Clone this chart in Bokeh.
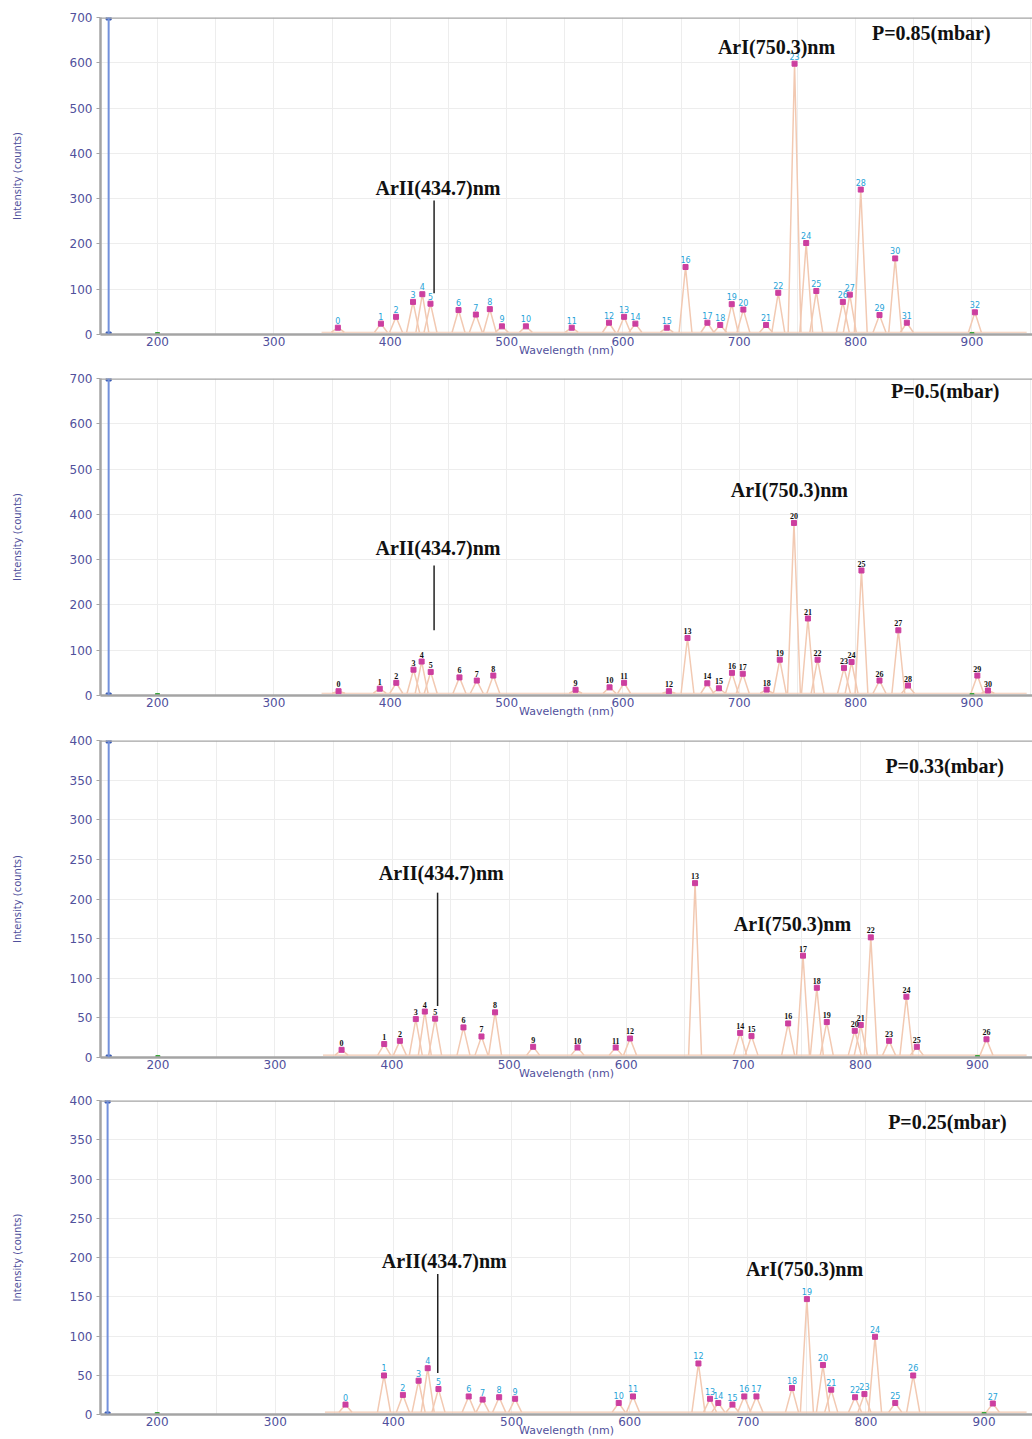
from bokeh.plotting import figure
from bokeh.layouts import column
from bokeh.models import FixedTicker, Span, Label
from bokeh.embed import file_html
from bokeh.resources import INLINE
from bokeh.core.properties import value

# ---------------- data ----------------
x_ticks = [200, 300, 400, 500, 600, 700, 800, 900]
x_grid_ticks = [150, 200, 250, 300, 350, 400, 450, 500, 550, 600, 650, 700, 750, 800, 850, 900, 950]
y_ticks_high = [0, 100, 200, 300, 400, 500, 600, 700]
y_ticks_low = [0, 50, 100, 150, 200, 250, 300, 350, 400]

pressures = ["P=0.85(mbar)", "P=0.5(mbar)", "P=0.33(mbar)", "P=0.25(mbar)"]
line_ArII = "ArII(434.7)nm"
line_ArI = "ArI(750.3)nm"
marker_line_nm = 158
green_marks_nm = [200, 900]
baseline_counts = [5, 5, 3, 3]

p1_nm = [355, 392, 405, 419.6, 427.6, 434.6, 458.7, 473.6, 485.6, 496, 516.6, 556, 588, 601,
         610.7, 637.7, 653.8, 672.6, 683.6, 693.5, 703.5, 723, 733.5, 747.5, 757.5, 766.2,
         789, 795, 804.4, 820.5, 834, 844, 902.5]
p1_int = [15, 24, 39, 72, 89, 68, 54, 44, 56, 18, 18, 15, 26, 39, 24, 15, 149, 26, 21, 67,
          55, 21, 92, 598, 202, 96, 72, 88, 320, 43, 168, 26, 49]

p2_nm = [355.6, 391, 405.2, 420, 427, 434.8, 459.5, 474.4, 488.6, 559.3, 588.5, 601, 639.5,
         655.5, 672.5, 682.5, 693.7, 703, 723.5, 734.8, 747, 759, 767.3, 790, 796.5, 805,
         820.5, 836.7, 845, 904.6, 913.7]
p2_int = [9.5, 15, 28, 57, 75, 52, 40, 33, 44, 12.6, 18, 28, 9.5, 127, 27, 16, 50, 48, 13,
          79, 381, 170, 79, 61, 74, 276, 33, 144, 22, 44, 11]

p3_nm = [356.9, 393.3, 406.7, 420.3, 428, 436.8, 461, 476.4, 488, 520.5, 558.4, 591, 603.3,
         658.8, 697.3, 707, 738.3, 751, 762.8, 771.3, 795.2, 800.3, 808.9, 824.5, 839.3,
         848.2, 907.7]
p3_int = [9.7, 17, 21, 48.5, 58, 49, 38, 26.5, 57, 13.5, 12.6, 12.6, 24, 220, 31, 27, 43,
          128.5, 88, 44.7, 33.7, 41, 151.6, 21, 76.7, 13.5, 23]

p4_nm = [359.4, 392, 408, 421.3, 429, 438.1, 463.7, 475.5, 489.5, 503, 590.7, 602.8, 658.2,
         668, 675, 687, 697, 707.3, 737.4, 750, 763.6, 770.6, 790.8, 798.7, 807.7, 824.8,
         840, 907.4]
p4_int = [12.6, 49.7, 25, 43, 59, 32.5, 23, 19, 22, 20, 14.7, 23, 65, 20, 14.7, 12.6, 23, 23,
          33.7, 147, 63, 31.6, 22, 26, 99, 14.7, 49.7, 14]

# ---------------- styling / layout per panel ----------------
AXIS_GRAY = "#a4a4a4"
TICK_COLOR = "#50509c"
SPEC_COLOR = "#f2c9b2"
PEAK_COLOR = "#cc3f9f"
CYAN = "#27a3d8"

panels = [
    dict(nm=p1_nm, inten=p1_int, yticks=y_ticks_high, x0=151, x1=952, height=362, top=17,
         bottom=28, left=87, lab_color=CYAN, lab_font="DejaVu Sans", lab_style="normal",
         P=(865, 665), ArI=(732, 634), ArII=(441, 323), ptr=(437.7, 296, 91)),
    dict(nm=p2_nm, inten=p2_int, yticks=y_ticks_high, x0=151, x1=952, height=363, top=16,
         bottom=30, left=87, lab_color="#111111", lab_font="Liberation Serif", lab_style="bold",
         P=(877, 673), ArI=(743, 453), ArII=(441, 325), ptr=(437.7, 287, 144)),
    dict(nm=p3_nm, inten=p3_int, yticks=y_ticks_low, x0=151, x1=947, height=360, top=15,
         bottom=28, left=100, lab_color="#111111", lab_font="Liberation Serif", lab_style="bold",
         P=(872, 368), ArI=(742, 168), ArII=(442, 233), ptr=(438.9, 208, 65)),
    dict(nm=p4_nm, inten=p4_int, yticks=y_ticks_low, x0=152, x1=941, height=354, top=15,
         bottom=22, left=97, lab_color=CYAN, lab_font="DejaVu Sans", lab_style="normal",
         P=(869, 372), ArI=(748, 185), ArII=(443, 195), ptr=(437.5, 179, 53)),
]

HALF_W = 5.5


def make_panel(i, c):
    ymax = c["yticks"][-1]
    p = figure(width=1032, height=c["height"], x_range=(c["x0"], c["x1"]),
               y_range=(0, ymax), output_backend="svg", toolbar_location=None,
               min_border_left=c["left"], min_border_right=0, min_border_top=c["top"],
               min_border_bottom=c["bottom"])
    p.outline_line_color = None
    p.background_fill_color = "white"
    p.border_fill_color = "white"

    # grids
    p.xgrid.ticker = FixedTicker(ticks=x_grid_ticks)
    p.ygrid.ticker = FixedTicker(ticks=c["yticks"])
    p.xgrid.grid_line_color = "#ededed"
    p.ygrid.grid_line_color = "#ededed"

    # x axis
    xa = p.xaxis[0]
    xa.ticker = FixedTicker(ticks=x_ticks)
    xa.axis_line_color = AXIS_GRAY
    xa.axis_line_width = 2.5
    xa.major_tick_out = 0
    xa.major_tick_in = 0
    xa.minor_tick_out = 0
    xa.minor_tick_in = 0
    xa.major_label_standoff = 2
    xa.major_label_text_font = "DejaVu Sans"
    xa.major_label_text_font_size = "12px"
    xa.major_label_text_color = TICK_COLOR
    xa.axis_label = "Wavelength (nm)"
    xa.axis_label_standoff = -5
    xa.axis_label_text_font = "DejaVu Sans"
    xa.axis_label_text_font_style = "normal"
    xa.axis_label_text_font_size = "11px"
    xa.axis_label_text_color = TICK_COLOR

    # y axis
    ya = p.yaxis[0]
    ya.ticker = FixedTicker(ticks=c["yticks"])
    ya.axis_line_color = AXIS_GRAY
    ya.axis_line_width = 2.5
    ya.major_tick_out = 4
    ya.major_tick_in = 0
    ya.major_tick_line_color = AXIS_GRAY
    ya.minor_tick_out = 0
    ya.minor_tick_in = 0
    ya.major_label_standoff = 4
    ya.major_label_text_font = "DejaVu Sans"
    ya.major_label_text_font_size = "12px"
    ya.major_label_text_color = TICK_COLOR
    ya.axis_label = "Intensity (counts)"
    ya.axis_label_standoff = 44
    ya.axis_label_text_font = "DejaVu Sans"
    ya.axis_label_text_font_style = "normal"
    ya.axis_label_text_font_size = "10px"
    ya.axis_label_text_color = TICK_COLOR

    # top frame line
    p.add_layout(Span(location=ymax, dimension="width", line_color=AXIS_GRAY, line_width=2.5))

    # blue reference marker line
    p.add_layout(Span(location=marker_line_nm, dimension="height", line_color="#7391dc",
                      line_width=2))
    p.scatter([marker_line_nm, marker_line_nm], [0, ymax], marker="square", size=5,
              color="#3b5cb3")

    # spectrum
    base = baseline_counts[i]
    nm, inten = c["nm"], c["inten"]
    p.line([c["x0"] + 190, c["x1"] - 5], [base, base], line_color=SPEC_COLOR, line_width=1.2)
    xs = [[w - HALF_W, w, w + HALF_W] for w in nm]
    ys = [[base, v, base] for v in inten]
    p.multi_line(xs, ys, line_color=SPEC_COLOR, line_width=1.5)

    # green markers on the axis
    p.scatter(green_marks_nm, [0] * len(green_marks_nm), marker="square", size=4,
              color="#3aa53a")

    # peak markers & numbers
    p.scatter(nm, inten, marker="square", size=5, color=PEAK_COLOR)
    p.text(nm, inten, text=[str(k) for k in range(len(nm))], y_offset=-4,
           text_align="center", text_baseline="bottom",
           text_font=value(c["lab_font"]), text_font_style=c["lab_style"],
           text_font_size="8px", text_color=c["lab_color"])

    # annotations
    def big(x, y, t):
        p.add_layout(Label(x=x, y=y, text=t, text_align="center", text_baseline="middle",
                           text_font="Liberation Serif", text_font_style="bold",
                           text_font_size="20px", text_color="#111111"))

    big(c["P"][0], c["P"][1], pressures[i])
    big(c["ArI"][0], c["ArI"][1], line_ArI)
    big(c["ArII"][0], c["ArII"][1], line_ArII)
    px, py0, py1 = c["ptr"]
    p.segment([px], [py0], [px], [py1], line_color="#222222", line_width=1.5)
    return p


figs = [make_panel(i, c) for i, c in enumerate(panels)]
layout = column(*figs, spacing=0)
open("out.html", "w").write(file_html(layout, INLINE))
